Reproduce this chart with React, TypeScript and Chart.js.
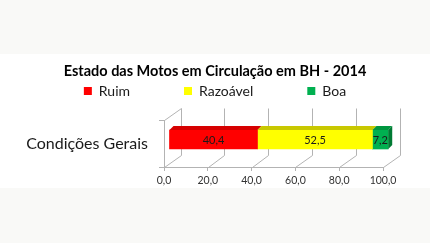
import { useEffect, useRef } from 'react';
import { Chart, registerables } from 'chart.js';

Chart.register(...registerables);

const TITLE = 'Estado das Motos em Circulação em BH - 2014';
const CATEGORIES = ['Condições Gerais'];
const SERIES_NAMES = ['Ruim', 'Razoável', 'Boa'];
const RUIM = [40.4];
const RAZOAVEL = [52.5];
const BOA = [7.2];
const X_TICKS = [0, 20, 40, 60, 80, 100];

const FRONT_COLORS = ['#ff0000', '#ffff00', '#00b050'];
const TOP_COLORS = ['#d60000', '#c8c800', '#00963f'];
const SIDE_COLORS = ['#b80000', '#a8a800', '#007a33'];
const GRID = '#b3b3b3';
const FONT = 'Lato, "Open Sans", sans-serif';

// 3D look parameters (pixels)
const WALL_DX = 16.5;
const WALL_DY = -12;
const BAR_DX = 5;
const BAR_DY = -4;
const BAR_DEPTH = 4;

const fmt = (v: number) => v.toFixed(1).replace('.', ',');

const threeD = {
  id: 'threeD',
  beforeDatasetsDraw(chart: any) {
    const { ctx, chartArea, scales } = chart;
    const { left, top, bottom } = chartArea;
    const x = scales.x;
    const a = (v: number) => Math.round(v) + 0.5;
    ctx.save();
    ctx.strokeStyle = GRID;
    ctx.lineWidth = 1;
    ctx.beginPath();
    ctx.moveTo(a(left), a(top));
    ctx.lineTo(a(left + WALL_DX), a(top + WALL_DY));
    x.ticks.forEach((t: any) => {
      const px = x.getPixelForValue(t.value);
      ctx.moveTo(a(px + WALL_DX), a(top + WALL_DY));
      ctx.lineTo(a(px + WALL_DX), a(bottom + WALL_DY));
      ctx.moveTo(a(px), a(bottom));
      ctx.lineTo(a(px + WALL_DX), a(bottom + WALL_DY));
    });
    ctx.stroke();
    ctx.restore();
    ctx.save();
    ctx.translate(BAR_DX, BAR_DY);
  },
  afterDatasetsDraw(chart: any) {
    const { ctx } = chart;
    ctx.restore();
    ctx.save();
    const n = chart.data.datasets.length;
    for (let d = 0; d < n; d++) {
      const meta = chart.getDatasetMeta(d);
      meta.data.forEach((el: any) => {
        const { x, y, base, height } = el.getProps(['x', 'y', 'base', 'height'], true);
        const t = y - height / 2 + BAR_DY;
        const b = y + height / 2 + BAR_DY;
        const x0 = Math.min(base, x) + BAR_DX;
        const x1 = Math.max(base, x) + BAR_DX;
        ctx.fillStyle = TOP_COLORS[d];
        ctx.beginPath();
        ctx.moveTo(x0, t);
        ctx.lineTo(x1, t);
        ctx.lineTo(x1 + BAR_DEPTH, t - BAR_DEPTH);
        ctx.lineTo(x0 + BAR_DEPTH, t - BAR_DEPTH);
        ctx.closePath();
        ctx.fill();
        if (d === n - 1) {
          ctx.fillStyle = SIDE_COLORS[d];
          ctx.beginPath();
          ctx.moveTo(x1, t);
          ctx.lineTo(x1 + BAR_DEPTH, t - BAR_DEPTH);
          ctx.lineTo(x1 + BAR_DEPTH, b - BAR_DEPTH);
          ctx.lineTo(x1, b);
          ctx.closePath();
          ctx.fill();
        }
      });
    }
    ctx.fillStyle = '#1a1a1a';
    ctx.font = `11px ${FONT}`;
    ctx.textAlign = 'center';
    ctx.textBaseline = 'middle';
    for (let d = 0; d < n; d++) {
      const meta = chart.getDatasetMeta(d);
      const values = chart.data.datasets[d].data;
      meta.data.forEach((el: any, i: number) => {
        const { x, y, base } = el.getProps(['x', 'y', 'base'], true);
        ctx.fillText(fmt(values[i]), (x + base) / 2 + BAR_DX, y + BAR_DY + 0.5);
      });
    }
    ctx.restore();
  },
};

export default function App() {
  const ref = useRef<HTMLCanvasElement | null>(null);

  useEffect(() => {
    let chart: Chart | null = null;
    let cancelled = false;
    const build = () => {
      if (cancelled || !ref.current) return;
      chart = new Chart(ref.current, {
        type: 'bar',
        data: {
          labels: CATEGORIES,
          datasets: [RUIM, RAZOAVEL, BOA].map((data, i) => ({
            label: SERIES_NAMES[i],
            data,
            backgroundColor: FRONT_COLORS[i],
            borderWidth: 0,
            barThickness: 19,
            clip: false as any,
          })),
        },
        options: {
          indexAxis: 'y',
          responsive: true,
          maintainAspectRatio: false,
          animation: false,
          events: [],
          layout: { padding: { top: 30, left: 0, right: 0, bottom: 0 } },
          plugins: {
            legend: {
              position: 'top',
              weight: 3000,
              labels: {
                boxWidth: 8,
                boxHeight: 8,
                padding: 54,
                color: '#1a1a1a',
                font: { family: FONT, size: 14 },
              },
            } as any,
            title: {
              display: true,
              text: TITLE,
              color: '#000',
              font: { family: FONT, size: 14.5, weight: 'bold' },
              padding: { top: -45.7, bottom: 40.3 },
            },
            tooltip: { enabled: false },
          },
          scales: {
            x: {
              stacked: true,
              min: 0,
              max: 100,
              afterBuildTicks: (s: any) => {
                s.ticks = X_TICKS.map((v) => ({ value: v }));
              },
              ticks: {
                callback: (v: any) => fmt(Number(v)),
                color: '#333',
                font: { family: FONT, size: 10.5 },
                padding: 3,
                maxRotation: 0,
              },
              grid: { drawOnChartArea: false, drawTicks: true, tickLength: 4, color: GRID },
              border: { display: true, color: GRID },
              afterFit: (s: any) => {
                s.height = 76;
              },
            },
            y: {
              stacked: true,
              grid: { drawOnChartArea: false, drawTicks: true, tickLength: 5, color: GRID, offset: true },
              border: { display: true, color: GRID },
              ticks: { padding: 11, color: '#1a1a1a', font: { family: FONT, size: 16 } },
              afterFit: (s: any) => {
                s.width = 164;
              },
            },
            yRight: {
              type: 'category',
              position: 'right',
              display: true,
              grid: { display: false },
              border: { display: false },
              ticks: { display: false },
              afterFit: (s: any) => {
                s.width = 47;
              },
            },
          },
        },
        plugins: [threeD],
      });
    };
    const fonts = (document as any).fonts;
    if (fonts && fonts.load) {
      Promise.all([
        fonts.load(`14px Lato`),
        fonts.load(`bold 14px Lato`),
      ]).then(build, build);
    } else {
      build();
    }
    return () => {
      cancelled = true;
      if (chart) chart.destroy();
    };
  }, []);

  return (
    <div
      style={{
        position: 'fixed',
        left: 0,
        top: 0,
        width: 430,
        height: 243,
        background: 'linear-gradient(#f9f9f7 0 54px, #ffffff 54px 188px, #f9f9f7 188px)',
      }}
    >
      <canvas ref={ref} />
    </div>
  );
}
